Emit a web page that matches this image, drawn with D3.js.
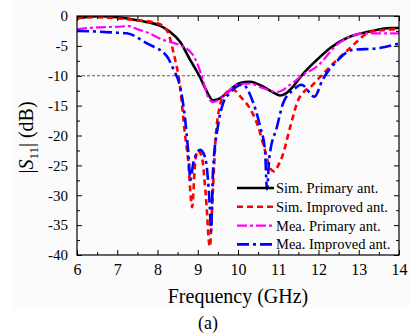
<!DOCTYPE html>
<html>
<head>
<meta charset="utf-8">
<script src="https://cdn.jsdelivr.net/npm/d3@7"></script>
<style>
  body { margin: 0; background: #fff; }
  svg { display: block; font-family: "Liberation Serif", "Times New Roman", serif; }
</style>
</head>
<body>
<div id="chart"></div>
<script>
// series (frequency in GHz, |S11| in dB)
const simPrimaryF = [6, 6.5, 7, 7.5, 7.8, 8.06, 8.3, 8.56, 8.8, 9.06, 9.2, 9.38, 9.55, 9.72, 10.05, 10.3, 10.62, 10.85, 11.04, 11.2, 11.37, 11.6, 11.95, 12.3, 12.73, 13.33, 13.8, 14];
const simPrimaryDb = [-0.4, -0.05, -0.2, -0.7, -1.1, -1.6, -2.6, -4.3, -7.2, -10.3, -12.3, -14.1, -13.8, -12.9, -11.2, -11.0, -11.8, -12.7, -13.3, -12.9, -11.8, -9.8, -7.4, -5.3, -3.6, -2.5, -2.0, -2.0];

const simImprovedF = [6, 6.5, 7, 7.5, 8.0, 8.15, 8.27, 8.4, 8.56, 8.68, 8.76, 8.86, 8.93, 9.0, 9.1, 9.2, 9.3, 9.37, 9.45, 9.55, 9.65, 9.86, 10.1, 10.3, 10.5, 10.65, 10.8, 10.9, 11.0, 11.1, 11.3, 11.5, 11.65, 11.8, 12.04, 12.45, 12.73, 13.33, 14];
const simImprovedDb = [-0.3, -0.2, -0.4, -0.7, -1.2, -1.8, -2.9, -6.2, -11.8, -19.6, -24, -32, -25, -22.5, -23.5, -30, -38.6, -30, -20, -15, -13.3, -12.3, -13.8, -15.5, -18.5, -22, -25.5, -26, -25, -23.5, -18.5, -14, -12.6, -11.9, -10.2, -7.4, -5.7, -2.6, -2.2];

const meaPrimaryF = [6, 6.5, 7, 7.3, 7.5, 7.8, 8.14, 8.4, 8.56, 8.88, 9.13, 9.25, 9.38, 9.63, 9.97, 10.3, 10.63, 10.97, 11.3, 11.6, 11.95, 12.5, 13.15, 14];
const meaPrimaryDb = [-2.2, -1.9, -1.8, -1.7, -2.2, -2.9, -4.0, -4.5, -4.9, -6.5, -10.7, -13.5, -14.4, -13.5, -11.5, -11.3, -12.1, -12.7, -11.5, -9.9, -8.5, -4.6, -2.9, -2.9];

const meaImprovedF = [6, 6.5, 7, 7.24, 7.74, 8.24, 8.4, 8.56, 8.68, 8.76, 8.82, 8.89, 9.06, 9.18, 9.3, 9.33, 9.38, 9.5, 9.63, 9.8, 10.12, 10.35, 10.55, 10.67, 10.72, 10.78, 10.97, 11.12, 11.37, 11.58, 11.9, 12.1, 12.48, 12.83, 13.48, 14];
const meaImprovedDb = [-2.5, -2.6, -2.8, -2.9, -4.6, -6.8, -9, -11.8, -16.9, -22.4, -27.4, -24.6, -22.4, -23.6, -32, -36, -25.8, -18.5, -14.6, -12.9, -11.5, -14, -18.5, -22.4, -29, -23.6, -18.5, -14.6, -12.4, -11.5, -13.5, -10.7, -7.4, -5.7, -5.4, -4.6];

const seriesNames = ["Sim. Primary ant.", "Sim. Improved ant.", "Mea. Primary ant.", "Mea. Improved ant."];
const xTicks = [6, 7, 8, 9, 10, 11, 12, 13, 14];
const yTicks = [0, -5, -10, -15, -20, -25, -30, -35, -40];
const refLevel = -10;

const width = 410, height = 335;
const margin = {top: 16, right: 11, bottom: 80, left: 77};
const plotW = width - margin.left - margin.right;
const plotH = height - margin.top - margin.bottom;

let svg = d3.select("#chart").append("svg")
    .attr("width", width)
    .attr("height", height);

// faint grey backdrop of the original figure
svg.append("rect")
    .attr("x", 13).attr("y", 0)
    .attr("width", width - 13).attr("height", 308)
    .attr("fill", "#fbfbfb");

let x = d3.scaleLinear().domain([6, 14]).range([0, plotW]);
let y = d3.scaleLinear().domain([-40, 0]).range([plotH, 0]);

let g = svg.append("g").attr("transform", `translate(${margin.left},${margin.top})`);

g.append("clipPath").attr("id", "clip")
    .append("rect").attr("width", plotW).attr("height", plotH);

// -10 dB reference line
g.append("line")
    .attr("x1", 0).attr("x2", plotW)
    .attr("y1", y(refLevel)).attr("y2", y(refLevel))
    .attr("stroke", "#444")
    .attr("stroke-width", 0.9)
    .attr("stroke-dasharray", "3,2");

let series = [
    {name: seriesNames[0], f: simPrimaryF, db: simPrimaryDb, color: "#000000", dash: null, w: 2.6},
    {name: seriesNames[1], f: simImprovedF, db: simImprovedDb, color: "#ff0000", dash: "6,4", w: 2.6},
    {name: seriesNames[2], f: meaPrimaryF, db: meaPrimaryDb, color: "#ff00ff", dash: "10,3,3,3", w: 2.2},
    {name: seriesNames[3], f: meaImprovedF, db: meaImprovedDb, color: "#0000ff", dash: "12,4,3,4", w: 2.6}
];

let line = d3.line()
    .x(d => x(d[0]))
    .y(d => y(d[1]))
    .curve(d3.curveMonotoneX);

let lines = g.append("g").attr("clip-path", "url(#clip)");
series.forEach(s => {
    let pts = s.f.map((f, i) => [f, s.db[i]]);
    lines.append("path")
        .attr("d", line(pts))
        .attr("fill", "none")
        .attr("stroke", s.color)
        .attr("stroke-width", s.w)
        .attr("stroke-dasharray", s.dash)
        .attr("stroke-linejoin", "round");
});

// axes, ticks pointing inward, minor ticks in between
let xMinor = d3.range(6.5, 14, 1);
let yMinor = d3.range(-37.5, 0, 5);

function styleAxis(sel) {
    sel.select(".domain").remove();
    sel.selectAll("line").attr("stroke", "#000").attr("stroke-width", 1);
    sel.selectAll("text").attr("fill", "#000");
}

g.append("g").attr("transform", `translate(0,${plotH})`)
    .call(d3.axisBottom(x).tickValues(xTicks).tickSize(-5).tickPadding(9).tickFormat(d => d))
    .call(styleAxis)
    .selectAll("text").style("font-size", "16px").style("font-family", "Liberation Serif");
g.append("g").attr("transform", `translate(0,${plotH})`)
    .call(d3.axisBottom(x).tickValues(xMinor).tickSize(-3).tickFormat(""))
    .call(styleAxis);
g.append("g")
    .call(d3.axisTop(x).tickValues(xTicks).tickSize(-5).tickFormat(""))
    .call(styleAxis);
g.append("g")
    .call(d3.axisTop(x).tickValues(xMinor).tickSize(-3).tickFormat(""))
    .call(styleAxis);

g.append("g")
    .call(d3.axisLeft(y).tickValues(yTicks).tickSize(-5).tickPadding(9).tickFormat(d => String(d)))
    .call(styleAxis)
    .selectAll("text").style("font-size", "15px").style("font-family", "Liberation Serif");
g.append("g")
    .call(d3.axisLeft(y).tickValues(yMinor).tickSize(-3).tickFormat(""))
    .call(styleAxis);
g.append("g").attr("transform", `translate(${plotW},0)`)
    .call(d3.axisRight(y).tickValues(yTicks).tickSize(-5).tickFormat(""))
    .call(styleAxis);
g.append("g").attr("transform", `translate(${plotW},0)`)
    .call(d3.axisRight(y).tickValues(yMinor).tickSize(-3).tickFormat(""))
    .call(styleAxis);

g.append("rect")
    .attr("width", plotW).attr("height", plotH)
    .attr("fill", "none").attr("stroke", "#000").attr("stroke-width", 1.2);

// legend (no frame, drawn over the curves)
let legend = g.append("g").attr("transform", `translate(${237 - margin.left},${188 - margin.top})`);
series.forEach((s, i) => {
    let row = legend.append("g").attr("transform", `translate(0,${i * 18.8})`);
    row.append("line")
        .attr("x1", 0).attr("x2", 37)
        .attr("stroke", s.color)
        .attr("stroke-width", s.w)
        .attr("stroke-dasharray", s.dash);
    row.append("text")
        .attr("x", 39).attr("dy", "0.35em")
        .style("font-size", "14.5px")
        .text(s.name);
});

// axis titles
svg.append("text")
    .attr("x", margin.left + plotW / 2).attr("y", 303)
    .attr("text-anchor", "middle")
    .style("font-size", "20px")
    .text("Frequency (GHz)");

let yTitle = svg.append("text")
    .attr("transform", `translate(33,${margin.top + plotH / 2 + 2}) rotate(-90)`)
    .attr("text-anchor", "middle")
    .style("font-size", "20px");
yTitle.append("tspan").text("|");
yTitle.append("tspan").style("font-style", "italic").text("S");
yTitle.append("tspan").attr("dy", 5).style("font-size", "13px").text("11");
yTitle.append("tspan").attr("dy", -5).text("| (dB)");

svg.append("text")
    .attr("x", 208).attr("y", 329)
    .attr("text-anchor", "middle")
    .style("font-size", "18px")
    .text("(a)");
</script>
</body>
</html>
